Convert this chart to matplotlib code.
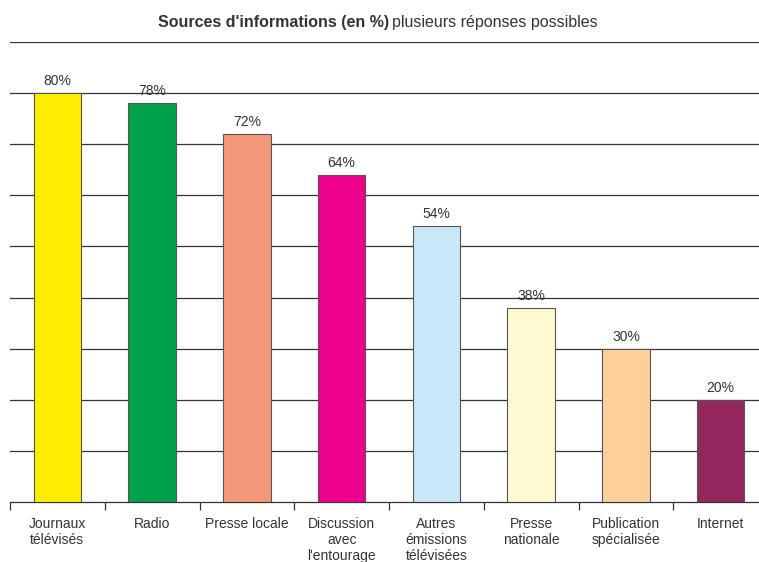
import matplotlib.pyplot as plt
import numpy as np

plt.rcParams['font.family'] = ['Liberation Sans', 'DejaVu Sans']

# Sources d'informations (en %)
categories = ["Journaux\ntélévisés", "Radio", "Presse locale", "Discussion\navec\nl'entourage",
              "Autres\némissions\ntélévisées", "Presse\nnationale", "Publication\nspécialisée", "Internet"]
values = [80, 78, 72, 64, 54, 38, 30, 20]
colors = ["#FFED00", "#00A14B", "#F4987A", "#EC008C", "#C8E8F8", "#FFF9D2", "#FDD09B", "#93285E"]

fig = plt.figure(figsize=(7.59, 5.62), dpi=100)
ax = fig.add_axes([10 / 759, 60 / 562, 758 / 759, 460 / 562])

x = np.arange(len(values))
ax.bar(x, values, width=0.5, color=colors, edgecolor="#555555", linewidth=0.8, zorder=3)
for xi, v in zip(x, values):
    ax.text(xi, v + 1.0, f"{v}%", ha="center", va="bottom", fontsize=10, color="#333333", zorder=4)

ax.set_xlim(-0.5, len(values) - 0.5)
ax.set_ylim(0, 90)
ax.set_yticks(np.arange(10, 91, 10))
ax.yaxis.grid(True, color="#333333", linewidth=0.9, zorder=0)
ax.tick_params(axis="y", length=0, labelleft=False)

for s in ["left", "right", "top"]:
    ax.spines[s].set_visible(False)
ax.spines["bottom"].set_color("#333333")
ax.spines["bottom"].set_linewidth(0.9)

# étiquettes centrées, ticks aux limites des catégories
ax.set_xticks(x)
ax.set_xticklabels(categories, fontsize=10, color="#333333", linespacing=1.15)
ax.tick_params(axis="x", length=0, pad=11)
ax.set_xticks(np.arange(-0.5, len(values), 1), minor=True)
ax.tick_params(axis="x", which="minor", length=6, color="#333333", width=0.9)

fig.text(389 / 759, 1 - 22 / 562, "Sources d'informations (en %)", ha="right", va="center",
         fontsize=11.5, fontweight="bold", color="#333333")
fig.text(392 / 759, 1 - 22 / 562, "plusieurs réponses possibles", ha="left", va="center",
         fontsize=11.5, color="#333333")

fig.savefig("out.png", dpi=100)
